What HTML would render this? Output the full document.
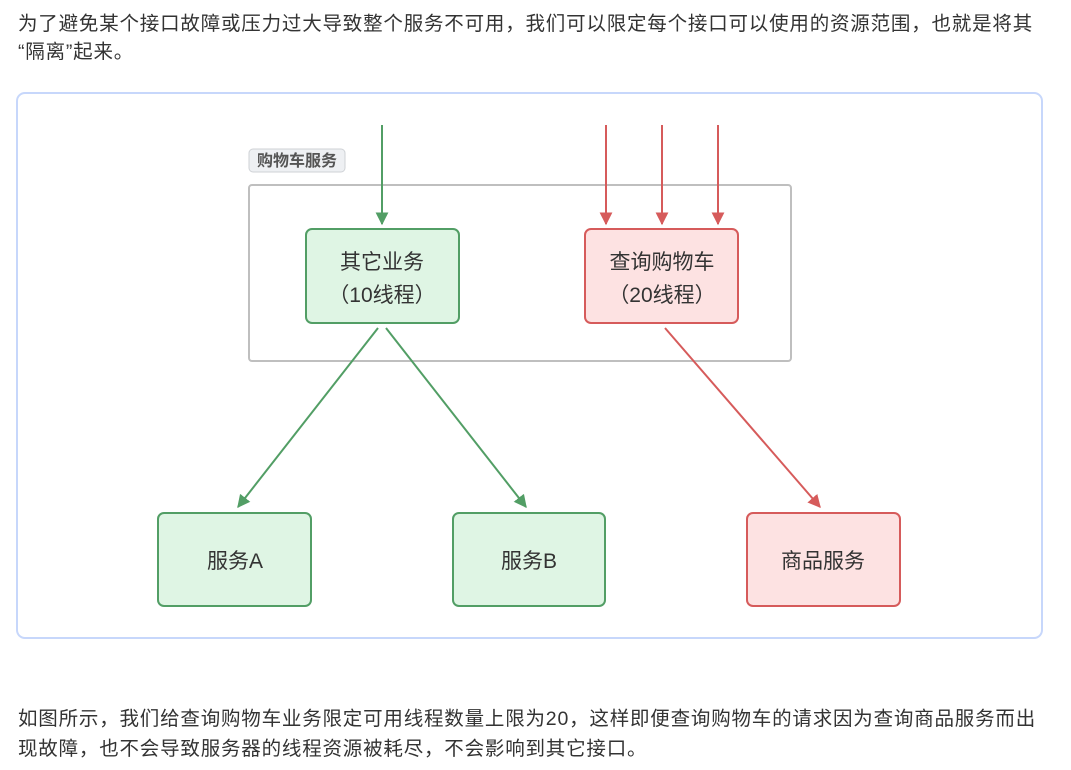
<!DOCTYPE html>
<html><head><meta charset="utf-8"><style>
html,body{margin:0;padding:0;background:#fff;width:1071px;height:770px;overflow:hidden}
.p{position:absolute;left:18px;font-family:"Liberation Sans","Noto Sans CJK SC",sans-serif;font-size:19.5px;letter-spacing:0.8px;color:#333;white-space:nowrap;line-height:20px}
svg{position:absolute;left:0;top:0}
svg text{font-family:"Liberation Sans","Noto Sans CJK SC",sans-serif}
</style></head><body>
<div class="p" style="top:14px">为了避免某个接口故障或压力过大导致整个服务不可用，我们可以限定每个接口可以使用的资源范围，也就是将其</div>
<div class="p" style="top:42px">“隔离”起来。</div>
<div class="p" style="top:709px">如图所示，我们给查询购物车业务限定可用线程数量上限为20，这样即便查询购物车的请求因为查询商品服务而出</div>
<div class="p" style="top:739px">现故障，也不会导致服务器的线程资源被耗尽，不会影响到其它接口。</div>
<svg width="1071" height="770">
<defs>
<marker id="g" viewBox="0 0 10 10" refX="9" refY="5" markerWidth="6.5" markerHeight="6.5" orient="auto"><path d="M0,0L10,5L0,10z" fill="#529e65"/></marker>
<marker id="r" viewBox="0 0 10 10" refX="9" refY="5" markerWidth="6.5" markerHeight="6.5" orient="auto"><path d="M0,0L10,5L0,10z" fill="#d65b5b"/></marker>
</defs>
<rect x="17" y="93" width="1025" height="545" rx="8" fill="#fff" stroke="#c7d7fb" stroke-width="2"/>
<rect x="249" y="185" width="542" height="176" rx="3" fill="none" stroke="#bfbfbf" stroke-width="2"/>
<rect x="249" y="149" width="96" height="23" rx="4" fill="#eef0f3" stroke="#cfd2d6"/>
<text x="297" y="166" text-anchor="middle" font-size="16" font-weight="bold" fill="#555">购物车服务</text>
<g stroke-width="2" fill="none">
<line x1="382" y1="125" x2="382" y2="224" stroke="#529e65" marker-end="url(#g)"/>
<line x1="606" y1="125" x2="606" y2="224" stroke="#d65b5b" marker-end="url(#r)"/>
<line x1="662" y1="125" x2="662" y2="224" stroke="#d65b5b" marker-end="url(#r)"/>
<line x1="718" y1="125" x2="718" y2="224" stroke="#d65b5b" marker-end="url(#r)"/>
<line x1="378" y1="328" x2="238" y2="507" stroke="#529e65" marker-end="url(#g)"/>
<line x1="386" y1="328" x2="526" y2="507" stroke="#529e65" marker-end="url(#g)"/>
<line x1="665" y1="328" x2="820" y2="507" stroke="#d65b5b" marker-end="url(#r)"/>
</g>
<g stroke-width="2">
<rect x="306" y="229" width="153" height="94" rx="6" fill="#dff5e4" stroke="#529e65"/>
<rect x="585" y="229" width="153" height="94" rx="6" fill="#fde2e2" stroke="#d65b5b"/>
<rect x="158" y="513" width="153" height="93" rx="6" fill="#dff5e4" stroke="#529e65"/>
<rect x="453" y="513" width="152" height="93" rx="6" fill="#dff5e4" stroke="#529e65"/>
<rect x="747" y="513" width="153" height="93" rx="6" fill="#fde2e2" stroke="#d65b5b"/>
</g>
<g font-size="21" fill="#333" text-anchor="middle">
<text x="382" y="269">其它业务</text>
<text x="382" y="302">（10线程）</text>
<text x="662" y="269">查询购物车</text>
<text x="662" y="302">（20线程）</text>
<text x="235" y="568">服务A</text>
<text x="529" y="568">服务B</text>
<text x="823" y="568">商品服务</text>
</g>
</svg>
</body></html>
